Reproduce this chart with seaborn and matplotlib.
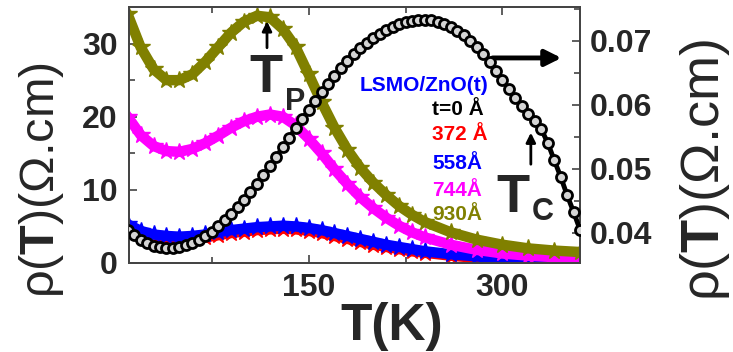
import numpy as np
import pandas as pd
import matplotlib
matplotlib.use("Agg")
import matplotlib.pyplot as plt
import seaborn as sns

# ---------------- data ----------------
T_col = [10, 20, 30, 40, 50, 60, 70, 80, 90, 100, 110, 120, 130, 140, 150,
         160, 170, 180, 190, 200, 210, 220, 230, 240, 260, 280, 300, 320, 340, 360]
rho_930 = [34.0, 29.5, 26.5, 25.0, 25.0, 25.8, 27.5, 29.5, 31.5, 33.0, 33.8, 33.6,
           32.0, 29.5, 25.8, 22.0, 18.5, 15.5, 13.0, 11.0, 9.3, 7.8, 6.6, 5.6,
           4.2, 3.2, 2.5, 2.0, 1.7, 1.5]
rho_744 = [20.0, 17.5, 16.0, 15.3, 15.2, 15.6, 16.4, 17.4, 18.5, 19.4, 20.0, 20.3,
           20.0, 18.8, 17.0, 15.0, 12.8, 10.8, 9.0, 7.5, 6.2, 5.1, 4.2, 3.5,
           2.5, 1.8, 1.3, 1.0, 0.8, 0.6]
rho_558 = [5.3, 4.4, 3.9, 3.7, 3.6, 3.7, 3.9, 4.2, 4.5, 4.7, 4.9, 5.0, 5.1, 5.0,
           4.8, 4.5, 4.1, 3.7, 3.3, 2.9, 2.5, 2.2, 1.9, 1.6, 1.2, 0.9, 0.7, 0.5,
           0.4, 0.35]
rho_372 = [4.9, 4.0, 3.5, 3.3, 3.2, 3.3, 3.5, 3.8, 4.1, 4.3, 4.5, 4.6, 4.7, 4.6,
           4.4, 4.1, 3.7, 3.3, 2.9, 2.5, 2.2, 1.9, 1.6, 1.4, 1.0, 0.7, 0.5, 0.4,
           0.3, 0.25]

T_blk = list(range(10, 365, 5))
rho_0 = [0.0405, 0.0396, 0.0389, 0.0384, 0.0380, 0.0378, 0.0377, 0.0377, 0.0378,
         0.0381, 0.0384, 0.0389, 0.0395, 0.0402, 0.0411, 0.0420, 0.0430, 0.0441,
         0.0452, 0.0464, 0.0477, 0.0491, 0.0505, 0.0519, 0.0534, 0.0549, 0.0564,
         0.0578, 0.0592, 0.0606, 0.0620, 0.0633, 0.0645, 0.0657, 0.0669, 0.0679,
         0.0689, 0.0697, 0.0705, 0.0711, 0.0717, 0.0722, 0.0727, 0.0729, 0.0731,
         0.0732, 0.0733, 0.0732, 0.0730, 0.0727, 0.0722, 0.0716, 0.0709, 0.0700,
         0.0691, 0.0680, 0.0667, 0.0653, 0.0639, 0.0625, 0.0611, 0.0598, 0.0586,
         0.0575, 0.0562, 0.0541, 0.0514, 0.0488, 0.0459, 0.0433, 0.0405]

x_major = [150, 300]
x_minor = [75, 225]
yl_major = [0, 10, 20, 30]
yl_minor = [5, 15, 25]
yr_major = [0.04, 0.05, 0.06, 0.07]
yr_minor = [0.045, 0.055, 0.065, 0.075]

legend_title = "LSMO/ZnO(t)"
legend_labels = ["t=0 Å", "372 Å", "558Å", "744Å", "930Å"]

# ---------------- style ----------------
sns.set_style("ticks")
plt.rcParams["font.family"] = ["Liberation Sans", "DejaVu Sans"]
plt.rcParams["mathtext.fontset"] = "custom"
plt.rcParams["mathtext.rm"] = "Liberation Sans"
plt.rcParams["mathtext.bf"] = "Liberation Sans:bold"

c_olive, c_mag, c_blue, c_red = "#808000", "#ff00ff", "#0000ff", "#ff0000"

fig = plt.figure(figsize=(7.33, 3.52), dpi=100)
ax = fig.add_axes([129 / 733, 1 - 263 / 352, 451 / 733, 256 / 352])
ax2 = ax.twinx()

df = pd.DataFrame({"T": T_col, "930": rho_930, "744": rho_744,
                   "558": rho_558, "372": rho_372})
for col, c in [("372", c_red), ("558", c_blue), ("744", c_mag), ("930", c_olive)]:
    sns.lineplot(data=df, x="T", y=col, ax=ax, color=c, lw=7.5, marker="*",
                 markersize=13, markeredgecolor=c, markerfacecolor=c,
                 markeredgewidth=1, zorder=2)

dfb = pd.DataFrame({"T": T_blk, "rho": rho_0})
sns.lineplot(data=dfb, x="T", y="rho", ax=ax2, color="black", lw=3.5, marker="o",
             markersize=7.2, markerfacecolor="#d4d4d4", markeredgecolor="black",
             markeredgewidth=2.0, zorder=3)

ax.set_xlim(11, 360)
ax.set_ylim(0, 35)
ax2.set_ylim(0.0353, 0.0753)

ax.set_xticks(x_major)
ax.set_xticks(x_minor, minor=True)
ax.set_yticks(yl_major)
ax.set_yticks(yl_minor, minor=True)
ax2.set_yticks(yr_major)
ax2.set_yticks(yr_minor, minor=True)
ax.set_yticklabels([str(v) for v in yl_major])
ax2.set_yticklabels([f"{v:.2f}" for v in yr_major])
ax.set_xticklabels([str(v) for v in x_major])

for lab in ax.get_xticklabels() + ax.get_yticklabels() + ax2.get_yticklabels():
    lab.set_fontsize(23)
    lab.set_fontweight("bold")

ax.tick_params(axis="both", which="both", direction="in", top=True, right=False,
               width=1.1, color="#333333")
ax.tick_params(axis="both", which="major", length=6)
ax.tick_params(axis="both", which="minor", length=4)
ax.tick_params(axis="x", pad=7)
ax.tick_params(axis="y", pad=8)
ax2.tick_params(axis="y", which="both", direction="in", width=1.1, color="#333333", pad=7)
ax2.tick_params(axis="y", which="major", length=6)
ax2.tick_params(axis="y", which="minor", length=4)

for a in (ax, ax2):
    for s in a.spines.values():
        s.set_linewidth(1.3)
        s.set_color("#444444")

ax.set_xlabel("")
ax.set_ylabel("")
ax2.set_ylabel("")

# axis titles
fig.text(41 / 733, 1 - 180 / 352, r"ρ($\mathbf{T}$)(Ω.cm)", rotation=90,
         ha="center", va="center", fontsize=35)
fig.text(705 / 733, 1 - 170 / 352, r"ρ($\mathbf{T}$)(Ω.cm)", rotation=90,
         ha="center", va="center", fontsize=39)
fig.text(392 / 733, 1 - 340 / 352, "T(K)", ha="center", va="baseline",
         fontsize=37, fontweight="bold")

# legend as coloured text
tr = ax.transAxes
ax.text(0.512, 0.695, legend_title, transform=tr, color=c_blue, fontsize=15,
        fontweight="bold", ha="left", va="center")
leg_colors = ["black", c_red, c_blue, c_mag, c_olive]
leg_y = [0.60, 0.50, 0.39, 0.285, 0.19]
for lab, c, y in zip(legend_labels, leg_colors, leg_y):
    ax.text(0.672, y, lab, transform=tr, color=c, fontsize=15,
            fontweight="bold", ha="left", va="center")

# annotations
ax.text(0.304, 0.668, "T", transform=tr, fontsize=39, fontweight="bold",
        ha="center", va="baseline")
ax.text(0.346, 0.598, "P", transform=tr, fontsize=22, fontweight="bold",
        ha="left", va="baseline")
ax.annotate("", xy=(0.306, 0.955), xytext=(0.306, 0.83), xycoords=tr,
            textcoords=tr, arrowprops=dict(arrowstyle="-|>", lw=2, color="black",
                                           mutation_scale=14))
ax.text(0.851, 0.199, "T", transform=tr, fontsize=39, fontweight="bold",
        ha="center", va="baseline")
ax.text(0.894, 0.168, "C", transform=tr, fontsize=22, fontweight="bold",
        ha="left", va="baseline")
ax.annotate("", xy=(0.891, 0.52), xytext=(0.891, 0.375), xycoords=tr,
            textcoords=tr, arrowprops=dict(arrowstyle="-|>", lw=2, color="black",
                                           mutation_scale=14))
ax.annotate("", xy=(0.965, 0.801), xytext=(0.80, 0.801), xycoords=tr,
            textcoords=tr, arrowprops=dict(arrowstyle="-|>", lw=3.5, color="black",
                                           mutation_scale=24))

fig.savefig("out.png", dpi=100)
